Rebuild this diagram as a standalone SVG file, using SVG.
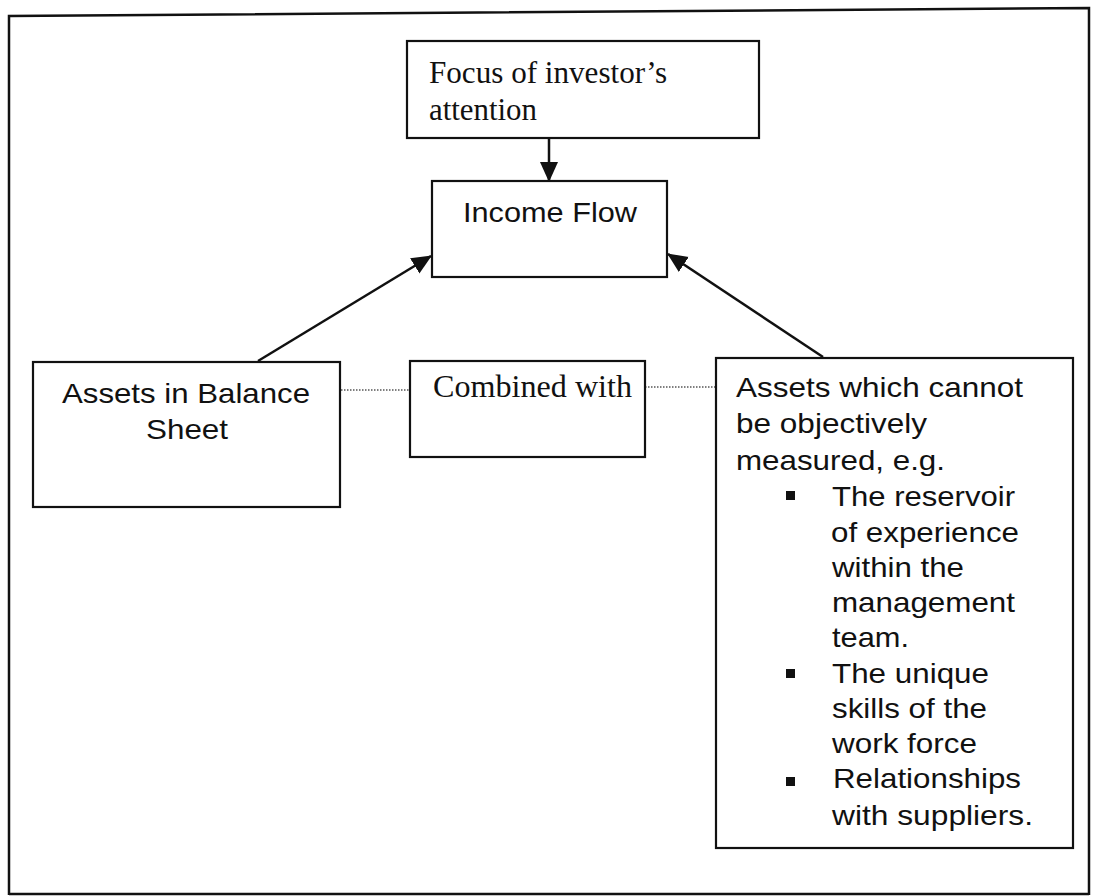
<svg xmlns="http://www.w3.org/2000/svg" width="1093" height="896" viewBox="0 0 1093 896">
<style>
.box{fill:#fff;stroke:#111;stroke-width:2.2}
.serif{font-family:"Liberation Serif","Times New Roman",serif;font-size:31px;fill:#111}
.sans{font-family:"Liberation Sans",Arial,sans-serif;font-size:28px;fill:#111}
.arrow{stroke:#111;stroke-width:2.5;fill:none;marker-end:url(#ah)}
.dot{stroke:#555;stroke-width:1.5;stroke-dasharray:1.5 1.5;fill:none}
.bullet{fill:#111}
</style>
<defs>
<marker id="ah" viewBox="0 0 20 20" refX="19" refY="10" markerWidth="20" markerHeight="20" markerUnits="userSpaceOnUse" orient="auto">
<path d="M0,1 L20,10 L0,19 z" fill="#111"/>
</marker>
</defs>
<rect width="1093" height="896" fill="#fff"/>
<g id="frame">
<path d="M9,895 L9,16 L1089,8 L1089,895 M9,894 L1089,894" fill="none" stroke="#111" stroke-width="2.5"/>
</g>
<g id="connectors">
<line class="arrow" x1="549" y1="138" x2="549" y2="181"/>
<line class="arrow" x1="258" y1="361" x2="431" y2="256"/>
<line class="arrow" x1="823" y1="357" x2="668" y2="254"/>
<line class="dot" x1="341" y1="390" x2="410" y2="390"/>
<line class="dot" x1="645" y1="387" x2="716" y2="387"/>
</g>
<g id="focus">
<rect class="box" x="407" y="41" width="352" height="97"/>
<text class="serif" x="429" y="83" textLength="238" lengthAdjust="spacingAndGlyphs">Focus of investor’s</text>
<text class="serif" x="429" y="120" textLength="108" lengthAdjust="spacingAndGlyphs">attention</text>
</g>
<g id="income">
<rect class="box" x="432" y="181" width="235" height="96"/>
<text class="sans" x="463" y="222" textLength="174" lengthAdjust="spacingAndGlyphs">Income Flow</text>
</g>
<g id="balance">
<rect class="box" x="33" y="362" width="307" height="145"/>
<text class="sans" x="62" y="403" textLength="248" lengthAdjust="spacingAndGlyphs">Assets in Balance</text>
<text class="sans" x="146" y="439" textLength="82" lengthAdjust="spacingAndGlyphs">Sheet</text>
</g>
<g id="combined">
<rect class="box" x="410" y="361" width="235" height="96"/>
<text class="serif" x="433" y="397" textLength="199" lengthAdjust="spacingAndGlyphs">Combined with</text>
</g>
<g id="intangible">
<rect class="box" x="716" y="358" width="357" height="490"/>
<text class="sans" x="736" y="397" textLength="287" lengthAdjust="spacingAndGlyphs">Assets which cannot</text>
<text class="sans" x="736" y="433" textLength="191" lengthAdjust="spacingAndGlyphs">be objectively</text>
<text class="sans" x="736" y="470" textLength="209" lengthAdjust="spacingAndGlyphs">measured, e.g.</text>
<rect class="bullet" x="786" y="491" width="9" height="9"/>
<text class="sans" x="832" y="506" textLength="183" lengthAdjust="spacingAndGlyphs">The reservoir</text>
<text class="sans" x="831" y="542" textLength="188" lengthAdjust="spacingAndGlyphs">of experience</text>
<text class="sans" x="832" y="577" textLength="132" lengthAdjust="spacingAndGlyphs">within the</text>
<text class="sans" x="832" y="612" textLength="183" lengthAdjust="spacingAndGlyphs">management</text>
<text class="sans" x="832" y="647" textLength="77" lengthAdjust="spacingAndGlyphs">team.</text>
<rect class="bullet" x="786" y="669" width="9" height="9"/>
<text class="sans" x="832" y="683" textLength="157" lengthAdjust="spacingAndGlyphs">The unique</text>
<text class="sans" x="832" y="718" textLength="155" lengthAdjust="spacingAndGlyphs">skills of the</text>
<text class="sans" x="832" y="753" textLength="145" lengthAdjust="spacingAndGlyphs">work force</text>
<rect class="bullet" x="786" y="777" width="9" height="9"/>
<text class="sans" x="833" y="788" textLength="188" lengthAdjust="spacingAndGlyphs">Relationships</text>
<text class="sans" x="832" y="825" textLength="201" lengthAdjust="spacingAndGlyphs">with suppliers.</text>
</g>
</svg>
